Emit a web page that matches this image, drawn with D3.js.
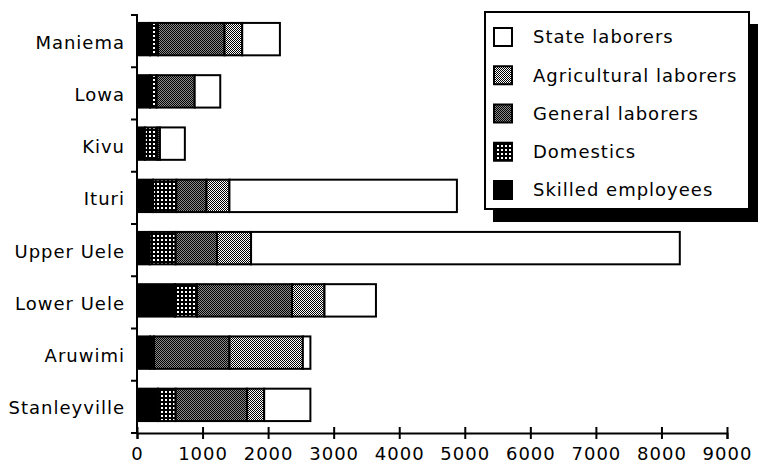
<!DOCTYPE html>
<html>
<head>
<meta charset="utf-8">
<script src="https://cdn.jsdelivr.net/npm/d3@7"></script>
<style>
  html, body { margin: 0; padding: 0; background: #fff; }
  svg { display: block; }
  text { font-family: "DejaVu Sans", sans-serif; fill: #000; }
</style>
</head>
<body>
<svg id="chart" width="759" height="467"></svg>
<script>
// ---- data ----
const categories = ["Maniema", "Lowa", "Kivu", "Ituri", "Upper Uele", "Lower Uele", "Aruwimi", "Stanleyville"];
const seriesNames = ["Skilled employees", "Domestics", "General laborers", "Agricultural laborers", "State laborers"];
const skilled      = [200, 200, 120, 245, 195, 580, 200, 320];
const domestics    = [120, 100, 190, 355, 395, 335, 60, 270];
const general      = [1015, 580, 40, 460, 630, 1450, 1150, 1090];
const agricultural = [270, 0, 0, 350, 520, 495, 1120, 260];
const state        = [575, 390, 380, 3470, 6540, 785, 115, 705];
const xTicks = [0, 1000, 2000, 3000, 4000, 5000, 6000, 7000, 8000, 9000];

const seriesKeys = ["skilled", "domestics", "general", "agricultural", "state"];
const table = categories.map((c, i) => ({
  category: c,
  skilled: skilled[i], domestics: domestics[i], general: general[i],
  agricultural: agricultural[i], state: state[i]
}));

const svg = d3.select("#chart");

// ---- patterns ----
const defs = svg.append("defs");
function pat(id, w, h, draw) {
  const p = defs.append("pattern").attr("id", id).attr("patternUnits", "userSpaceOnUse")
    .attr("width", w).attr("height", h);
  draw(p);
}
pat("p-dom", 4, 4, p => {
  p.append("rect").attr("width", 4).attr("height", 4).attr("fill", "#000");
  p.append("rect").attr("x", 1).attr("y", 1).attr("width", 2).attr("height", 2).attr("fill", "#fff");
});
pat("p-gen", 2, 2, p => {
  p.append("rect").attr("width", 2).attr("height", 2).attr("fill", "#8a8a8a");
  p.append("rect").attr("width", 1).attr("height", 1).attr("fill", "#000");
  p.append("rect").attr("x", 1).attr("y", 1).attr("width", 1).attr("height", 1).attr("fill", "#000");
});
pat("p-agr", 2, 2, p => {
  p.append("rect").attr("width", 2).attr("height", 2).attr("fill", "#fff");
  p.append("rect").attr("width", 1).attr("height", 1).attr("fill", "#000");
  p.append("rect").attr("x", 1).attr("y", 1).attr("width", 1).attr("height", 1).attr("fill", "#000");
});
const fills = { skilled: "#000", domestics: "url(#p-dom)", general: "url(#p-gen)",
                agricultural: "url(#p-agr)", state: "#fff" };

// ---- scales ----
const x = d3.scaleLinear().domain([0, 9000]).range([137, 727]);
const y = d3.scaleBand().domain(categories).range([15, 433]).paddingInner(0.38).paddingOuter(0.19);

const stack = d3.stack().keys(seriesKeys)(table);

// ---- bars ----
const gBars = svg.append("g").attr("transform", "translate(0,-2)");
stack.forEach(layer => {
  gBars.selectAll(null).data(layer).join("rect")
    .attr("x", d => x(d[0]))
    .attr("y", d => y(d.data.category))
    .attr("width", d => Math.max(0, x(d[1]) - x(d[0])))
    .attr("height", y.bandwidth())
    .attr("fill", fills[layer.key])
    .attr("stroke", "#000")
    .attr("stroke-width", 2);
});

const fontCss = "'DejaVu Sans', sans-serif";

// ---- y axis ----
const gy = svg.append("g").attr("transform", "translate(137,0)")
  .call(d3.axisLeft(y).tickSize(0).tickPadding(12));
gy.select(".domain").attr("stroke-width", 2).attr("d", `M0,${y.range()[0]}V${y.range()[1]}`);
gy.selectAll(".tick text").attr("font-size", 18).attr("dy", "0.42em")
  .style("font-family", fontCss).style("letter-spacing", "1px");
const bounds = d3.range(categories.length + 1).map(i => y.range()[0] + i * y.step());
gy.selectAll(".btick").data(bounds).join("line").attr("class", "btick")
  .attr("x1", -6).attr("x2", 1).attr("y1", d => d).attr("y2", d => d)
  .attr("stroke", "#000").attr("stroke-width", 2);

// ---- x axis ----
const gx = svg.append("g").attr("transform", "translate(0,433)")
  .call(d3.axisBottom(x).tickValues(xTicks).tickFormat(d3.format("d")).tickSizeOuter(0).tickSize(6));
gx.select(".domain").attr("stroke-width", 2);
gx.selectAll(".tick line").attr("y1", -6).attr("y2", 6).attr("stroke-width", 2);
gx.selectAll(".tick text").attr("font-size", 18).attr("y", 14)
  .style("font-family", fontCss).style("letter-spacing", "1px");

// ---- legend ----
const lg = svg.append("g");
lg.append("rect").attr("x", 493).attr("y", 24).attr("width", 265).attr("height", 198).attr("fill", "#000");
lg.append("rect").attr("x", 485).attr("y", 12).attr("width", 264).attr("height", 197)
  .attr("fill", "#fff").attr("stroke", "#000").attr("stroke-width", 2);
const legendOrder = seriesKeys.slice().reverse();
const legendNames = seriesNames.slice().reverse();
const ly = d3.scalePoint().domain(legendOrder).range([37, 190]);
legendOrder.forEach((k, i) => {
  lg.append("rect").attr("x", 494).attr("y", ly(k) - 9).attr("width", 18).attr("height", 18)
    .attr("fill", fills[k]).attr("stroke", "#000").attr("stroke-width", 2);
  lg.append("text").attr("x", 533).attr("y", ly(k)).attr("dy", "0.36em")
    .attr("font-size", 18).style("letter-spacing", "1px").text(legendNames[i]);
});
</script>
</body>
</html>
